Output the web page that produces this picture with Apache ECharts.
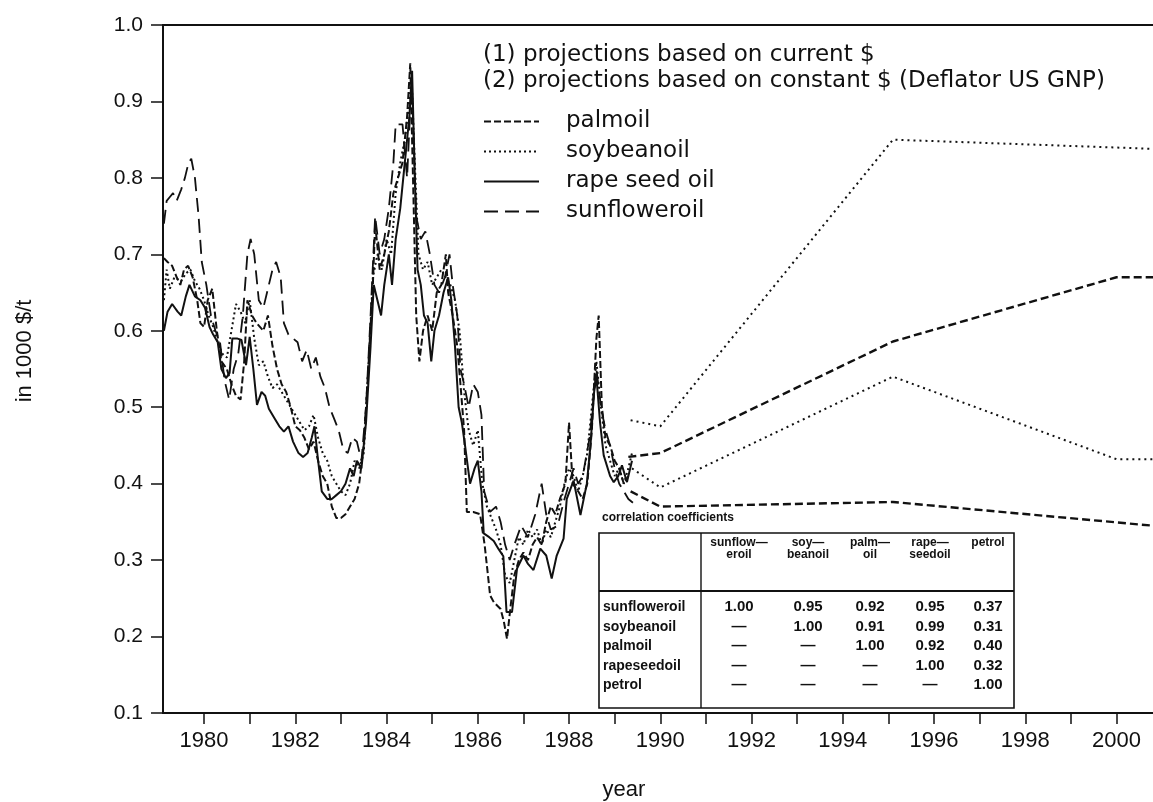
<!DOCTYPE html>
<html>
<head>
<meta charset="utf-8">
<script src="https://cdn.jsdelivr.net/npm/echarts@6/dist/echarts.min.js"></script>
<style>
html,body{margin:0;padding:0;background:#fff}
#chart{width:1153px;height:802px}
</style>
</head>
<body>
<div id="chart"></div>
<script>
// ---- observed prices, in 1000 $/t: [year, value] ----
const palmoil = [
  [1979.12,0.695],[1979.2,0.69],[1979.3,0.685],[1979.4,0.67],[1979.48,0.66],[1979.56,0.68],[1979.65,0.685],
  [1979.75,0.67],[1979.85,0.64],[1979.92,0.61],[1980.0,0.605],[1980.08,0.64],[1980.18,0.655],[1980.28,0.60],
  [1980.38,0.56],[1980.5,0.55],[1980.6,0.53],[1980.7,0.515],[1980.8,0.51],[1980.88,0.56],[1980.95,0.64],
  [1981.05,0.62],[1981.15,0.61],[1981.3,0.60],[1981.4,0.62],[1981.5,0.58],[1981.6,0.55],[1981.7,0.53],
  [1981.8,0.52],[1981.9,0.50],[1982.0,0.475],[1982.1,0.47],[1982.2,0.46],[1982.3,0.445],[1982.4,0.455],
  [1982.5,0.43],[1982.6,0.41],[1982.7,0.40],[1982.8,0.37],[1982.9,0.355],[1983.0,0.355],[1983.1,0.36],
  [1983.2,0.37],[1983.3,0.38],[1983.4,0.40],[1983.5,0.45],[1983.6,0.55],[1983.7,0.66],[1983.75,0.74],
  [1983.85,0.68],[1983.95,0.70],[1984.05,0.73],[1984.15,0.78],[1984.25,0.80],[1984.35,0.82],[1984.45,0.88],
  [1984.52,0.95],[1984.58,0.80],[1984.65,0.62],[1984.72,0.56],[1984.8,0.60],[1984.9,0.62],[1985.0,0.60],
  [1985.1,0.65],[1985.2,0.66],[1985.3,0.70],[1985.35,0.65],[1985.45,0.62],[1985.55,0.58],[1985.62,0.53],
  [1985.7,0.47],[1985.76,0.363],[1985.9,0.363],[1986.05,0.36],[1986.15,0.32],[1986.27,0.254],[1986.35,0.245],
  [1986.5,0.236],[1986.57,0.22],[1986.64,0.197],[1986.72,0.24],[1986.8,0.28],[1986.9,0.30],[1987.0,0.31],
  [1987.1,0.30],[1987.2,0.32],[1987.3,0.33],[1987.4,0.32],[1987.5,0.35],[1987.6,0.37],[1987.7,0.36],
  [1987.8,0.38],[1987.92,0.40],[1988.0,0.48],[1988.08,0.40],[1988.2,0.39],[1988.3,0.38],[1988.4,0.40],
  [1988.5,0.47],[1988.6,0.59],[1988.65,0.62],[1988.72,0.50],[1988.8,0.46],[1988.9,0.45],[1989.0,0.43],
  [1989.1,0.42],[1989.2,0.40],[1989.3,0.41]
];
const soybeanoil = [
  [1979.12,0.64],[1979.18,0.68],[1979.25,0.655],[1979.35,0.67],[1979.5,0.665],[1979.6,0.675],[1979.7,0.68],
  [1979.8,0.665],[1979.9,0.655],[1980.0,0.64],[1980.1,0.62],[1980.2,0.605],[1980.3,0.585],[1980.4,0.57],
  [1980.5,0.565],[1980.6,0.60],[1980.7,0.635],[1980.8,0.625],[1980.9,0.61],[1981.0,0.64],[1981.1,0.59],
  [1981.2,0.555],[1981.3,0.56],[1981.4,0.54],[1981.5,0.525],[1981.6,0.53],[1981.7,0.52],[1981.8,0.51],
  [1981.9,0.50],[1982.0,0.49],[1982.1,0.48],[1982.2,0.47],[1982.3,0.475],[1982.4,0.49],[1982.5,0.46],
  [1982.6,0.44],[1982.7,0.43],[1982.8,0.41],[1982.9,0.40],[1983.0,0.39],[1983.1,0.385],[1983.2,0.40],
  [1983.3,0.43],[1983.4,0.42],[1983.5,0.44],[1983.6,0.55],[1983.7,0.67],[1983.8,0.70],[1983.9,0.68],
  [1984.0,0.72],[1984.1,0.70],[1984.2,0.78],[1984.3,0.82],[1984.4,0.85],[1984.5,0.90],[1984.55,0.93],
  [1984.6,0.85],[1984.7,0.70],[1984.8,0.68],[1984.9,0.69],[1985.0,0.66],[1985.1,0.67],[1985.2,0.68],
  [1985.3,0.67],[1985.4,0.66],[1985.5,0.64],[1985.6,0.60],[1985.7,0.52],[1985.8,0.47],[1985.9,0.45],
  [1986.0,0.47],[1986.1,0.40],[1986.2,0.37],[1986.3,0.355],[1986.4,0.34],[1986.5,0.32],[1986.6,0.28],
  [1986.7,0.27],[1986.8,0.30],[1986.9,0.33],[1987.0,0.32],[1987.1,0.34],[1987.2,0.33],[1987.3,0.34],
  [1987.4,0.32],[1987.5,0.34],[1987.6,0.33],[1987.7,0.35],[1987.8,0.37],[1987.9,0.40],[1988.0,0.42],
  [1988.1,0.41],[1988.2,0.39],[1988.3,0.41],[1988.4,0.44],[1988.5,0.50],[1988.6,0.56],[1988.7,0.50],
  [1988.8,0.45],[1988.9,0.43],[1989.0,0.41],[1989.1,0.42],[1989.2,0.40],[1989.3,0.42],[1989.38,0.44]
];
const rapeseedoil = [
  [1979.12,0.60],[1979.2,0.625],[1979.3,0.635],[1979.42,0.625],[1979.5,0.62],[1979.6,0.645],[1979.68,0.66],
  [1979.8,0.645],[1979.92,0.64],[1980.02,0.63],[1980.12,0.605],[1980.2,0.595],[1980.3,0.585],[1980.38,0.55],
  [1980.48,0.538],[1980.56,0.545],[1980.62,0.59],[1980.72,0.59],[1980.82,0.588],[1980.92,0.555],[1981.0,0.592],
  [1981.08,0.55],[1981.16,0.503],[1981.26,0.52],[1981.34,0.515],[1981.42,0.498],[1981.55,0.485],[1981.65,0.475],
  [1981.75,0.468],[1981.85,0.475],[1981.95,0.455],[1982.07,0.44],[1982.17,0.435],[1982.27,0.44],[1982.36,0.46],
  [1982.42,0.475],[1982.5,0.43],[1982.58,0.39],[1982.7,0.38],[1982.8,0.38],[1982.9,0.385],[1983.0,0.39],
  [1983.1,0.40],[1983.2,0.42],[1983.28,0.41],[1983.35,0.43],[1983.45,0.42],[1983.55,0.48],[1983.65,0.58],
  [1983.72,0.66],[1983.8,0.64],[1983.88,0.62],[1983.95,0.66],[1984.05,0.70],[1984.12,0.66],[1984.2,0.72],
  [1984.3,0.76],[1984.4,0.82],[1984.5,0.88],[1984.56,0.94],[1984.62,0.80],[1984.68,0.68],[1984.75,0.66],
  [1984.82,0.62],[1984.9,0.61],[1984.98,0.56],[1985.05,0.60],[1985.15,0.62],[1985.25,0.65],[1985.35,0.67],
  [1985.42,0.64],[1985.5,0.58],[1985.58,0.50],[1985.65,0.48],[1985.72,0.45],[1985.83,0.40],[1985.93,0.42],
  [1986.0,0.43],[1986.08,0.39],[1986.13,0.335],[1986.25,0.33],[1986.35,0.325],[1986.45,0.315],[1986.56,0.305],
  [1986.63,0.232],[1986.75,0.232],[1986.86,0.289],[1987.0,0.306],[1987.1,0.295],[1987.22,0.287],[1987.37,0.315],
  [1987.5,0.306],[1987.62,0.276],[1987.73,0.306],[1987.88,0.328],[1987.95,0.38],[1988.1,0.404],[1988.25,0.359],
  [1988.39,0.40],[1988.47,0.45],[1988.55,0.52],[1988.6,0.54],[1988.68,0.48],[1988.76,0.437],[1988.9,0.41],
  [1988.98,0.402],[1989.08,0.41],[1989.16,0.424],[1989.27,0.402],[1989.38,0.43]
];
const sunfloweroil = [
  [1979.12,0.74],[1979.18,0.77],[1979.25,0.775],[1979.32,0.78],[1979.4,0.77],[1979.5,0.785],[1979.58,0.80],
  [1979.66,0.82],[1979.72,0.825],[1979.8,0.80],[1979.88,0.75],[1979.95,0.69],[1980.05,0.66],[1980.15,0.62],
  [1980.25,0.60],[1980.35,0.585],[1980.45,0.535],[1980.55,0.51],[1980.65,0.55],[1980.75,0.57],[1980.85,0.62],
  [1980.95,0.70],[1981.02,0.72],[1981.1,0.70],[1981.2,0.64],[1981.3,0.63],[1981.4,0.655],[1981.5,0.68],
  [1981.58,0.69],[1981.68,0.67],[1981.75,0.61],[1981.85,0.595],[1981.95,0.59],[1982.05,0.585],[1982.15,0.56],
  [1982.25,0.575],[1982.35,0.55],[1982.45,0.565],[1982.55,0.54],[1982.65,0.525],[1982.75,0.50],[1982.85,0.485],
  [1982.95,0.47],[1983.05,0.445],[1983.15,0.44],[1983.25,0.46],[1983.35,0.455],[1983.45,0.43],[1983.55,0.50],
  [1983.65,0.62],[1983.75,0.75],[1983.85,0.70],[1983.95,0.72],[1984.05,0.76],[1984.15,0.82],[1984.2,0.87],
  [1984.35,0.87],[1984.45,0.80],[1984.55,0.93],[1984.65,0.75],[1984.75,0.72],[1984.85,0.73],[1984.95,0.70],
  [1985.05,0.66],[1985.15,0.65],[1985.28,0.67],[1985.38,0.70],[1985.45,0.66],[1985.55,0.62],[1985.62,0.55],
  [1985.7,0.53],[1985.8,0.50],[1985.9,0.53],[1986.0,0.52],[1986.08,0.49],[1986.14,0.39],[1986.27,0.363],
  [1986.4,0.37],[1986.5,0.35],[1986.6,0.32],[1986.7,0.30],[1986.8,0.32],[1986.95,0.345],[1987.1,0.33],
  [1987.26,0.36],[1987.4,0.40],[1987.5,0.36],[1987.6,0.34],[1987.75,0.345],[1987.9,0.38],[1988.0,0.40],
  [1988.1,0.42],[1988.2,0.40],[1988.3,0.41],[1988.45,0.46],[1988.6,0.55],[1988.7,0.50],[1988.8,0.47],
  [1988.9,0.45],[1989.0,0.42],[1989.1,0.40],[1989.2,0.39],[1989.3,0.38],[1989.4,0.375]
];

// ---- projections: (1) current $, (2) constant $ ----
const soyProj1  = [[1989.35,0.483],[1990.0,0.475],[1995.1,0.85],[2000.8,0.838]];
const soyProj2  = [[1989.38,0.42],[1990.0,0.395],[1995.1,0.54],[2000.0,0.432],[2000.8,0.432]];
const palmProj1 = [[1989.3,0.435],[1990.0,0.44],[1995.1,0.586],[2000.0,0.67],[2000.8,0.67]];
const palmProj2 = [[1989.35,0.39],[1990.0,0.37],[1995.1,0.376],[2000.8,0.345]];

// ---- axes ----
const yearTicks  = [1980,1981,1982,1983,1984,1985,1986,1987,1988,1989,1990,1991,1992,1993,1994,1995,1996,1997,1998,1999,2000];
const yearLabels = [1980,1982,1984,1986,1988,1990,1992,1994,1996,1998,2000];

// ---- correlation table ----
const corrTitle = 'correlation coefficients';
const corrHeads = [['sunflow—','eroil'],['soy—','beanoil'],['palm—','oil'],['rape—','seedoil'],['petrol','']];
const corrRows  = ['sunfloweroil','soybeanoil','palmoil','rapeseedoil','petrol'];
const corrValues = [
  ['1.00','0.95','0.92','0.95','0.37'],
  [null,  '1.00','0.91','0.99','0.31'],
  [null,  null,  '1.00','0.92','0.40'],
  [null,  null,  null,  '1.00','0.32'],
  [null,  null,  null,  null,  '1.00']
];

const INK = '#111';
const chart = echarts.init(document.getElementById('chart'), null, {renderer: 'canvas'});

function lineSeries(name, data, type, width) {
  return {
    name: name, type: 'line', data: data, symbol: 'none', showSymbol: false, smooth: false,
    xAxisIndex: 0, yAxisIndex: 0, animation: false,
    lineStyle: {color: INK, width: width, type: type, cap: 'butt'},
    itemStyle: {color: INK}
  };
}

// "(1)" / "(2)" tag placed just above the last point of a projection
function endLabel(data, text) {
  const out = data.map(p => p.slice());
  const last = out.length - 1;
  out[last] = {value: out[last], label: {
    show: true, formatter: text, position: 'top', distance: 1, offset: [-13, 0],
    fontFamily: 'DejaVu Sans', fontSize: 20, color: INK
  }};
  return out;
}

// table geometry
const T = {l: 599, t: 533, r: 1014, b: 708, sepY: 591, divX: 701,
           cols: [739, 808, 870, 930, 988], rows: [607, 627, 646, 666, 685], head: [543, 555]};
const tableEls = [];
tableEls.push({type: 'text', left: 602, top: 512, style: {text: corrTitle, font: 'bold 12px "Liberation Sans"', fill: INK}});
tableEls.push({type: 'rect', shape: {x: T.l, y: T.t, width: T.r - T.l, height: T.b - T.t},
  style: {fill: '#fff', stroke: INK, lineWidth: 1.6}});
tableEls.push({type: 'line', shape: {x1: T.l, y1: T.sepY, x2: T.r, y2: T.sepY}, style: {stroke: INK, lineWidth: 2}});
tableEls.push({type: 'line', shape: {x1: T.divX, y1: T.t, x2: T.divX, y2: T.b}, style: {stroke: INK, lineWidth: 1.4}});
corrHeads.forEach((h, c) => {
  h.forEach((txt, k) => {
    if (!txt) return;
    tableEls.push({type: 'text', x: T.cols[c], y: T.head[k],
      style: {text: txt, font: 'bold 12px "Liberation Sans"', fill: INK, align: 'center', verticalAlign: 'middle'}});
  });
});
corrRows.forEach((name, r) => {
  tableEls.push({type: 'text', x: T.l + 4, y: T.rows[r],
    style: {text: name, font: 'bold 14px "Liberation Sans"', fill: INK, align: 'left', verticalAlign: 'middle'}});
  corrValues[r].forEach((v, c) => {
    tableEls.push({type: 'text', x: T.cols[c], y: T.rows[r],
      style: {text: v === null ? '—' : v, font: 'bold 15px "Liberation Sans"', fill: INK, align: 'center', verticalAlign: 'middle'}});
  });
});

const option = {
  backgroundColor: '#fff',
  animation: false,
  grid: {left: 163, right: 0, top: 25, bottom: 89, containLabel: false},
  legend: {
    data: ['palmoil', 'soybeanoil', 'rape seed oil', 'sunfloweroil'],
    orient: 'vertical', left: 478, top: 105,
    itemWidth: 55, itemHeight: 12, itemGap: 7,
    selectedMode: false,
    itemStyle: {opacity: 0},
    textStyle: {fontFamily: 'DejaVu Sans', fontSize: 23, color: INK, padding: [0, 0, 0, 22]}
  },
  xAxis: [{
    type: 'value', min: 1979.1, max: 2000.8, position: 'bottom',
    axisLine: {show: true, lineStyle: {color: INK, width: 2}},
    axisTick: {show: true, inside: false, length: 11, customValues: yearTicks, lineStyle: {color: INK, width: 1.5}},
    axisLabel: {show: true, customValues: yearLabels, margin: 17, fontFamily: 'Liberation Sans', fontSize: 22, color: INK,
      formatter: v => String(Math.round(v))},
    splitLine: {show: false}
  }, {
    type: 'value', min: 1979.1, max: 2000.8, position: 'top',
    axisLine: {show: true, onZero: false, lineStyle: {color: INK, width: 2}},
    axisTick: {show: false}, axisLabel: {show: false}, splitLine: {show: false}
  }],
  yAxis: {
    type: 'value', min: 0.1, max: 1.0, interval: 0.1,
    axisLine: {show: true, onZero: false, lineStyle: {color: INK, width: 2}},
    axisTick: {show: true, length: 12, lineStyle: {color: INK, width: 1.5}},
    axisLabel: {margin: 20, fontFamily: 'Liberation Sans', fontSize: 21, color: INK, formatter: v => v.toFixed(1)},
    splitLine: {show: false}
  },
  graphic: [
    {type: 'text', left: 483, top: 44, style: {text: '(1) projections based on current $', font: '23px "DejaVu Sans"', fill: INK}},
    {type: 'text', left: 483, top: 70, style: {text: '(2) projections based on constant $ (Deflator US GNP)', font: '23px "DejaVu Sans"', fill: INK}},
    {type: 'text', x: 25, y: 351, rotation: Math.PI / 2,
      style: {text: 'in 1000 $/t', font: '22px "Liberation Sans"', fill: INK, align: 'center', verticalAlign: 'middle'}},
    {type: 'text', x: 624, y: 790,
      style: {text: 'year', font: '22px "Liberation Sans"', fill: INK, align: 'center', verticalAlign: 'middle'}}
  ].concat(tableEls),
  series: [
    lineSeries('palmoil', palmoil, [7, 3], 2),
    lineSeries('soybeanoil', soybeanoil, [2, 3], 2),
    lineSeries('rape seed oil', rapeseedoil, 'solid', 2),
    lineSeries('sunfloweroil', sunfloweroil, [14, 7], 1.8),
    lineSeries('soybeanoil (1)', endLabel(soyProj1, '(1)'), [2, 4], 2),
    lineSeries('soybeanoil (2)', endLabel(soyProj2, '(2)'), [2, 4], 2),
    lineSeries('palmoil (1)', endLabel(palmProj1, '(1)'), [8, 4], 2.4),
    lineSeries('palmoil (2)', endLabel(palmProj2, '(2)'), [8, 4], 2.4)
  ]
};
chart.setOption(option);
</script>
</body>
</html>
